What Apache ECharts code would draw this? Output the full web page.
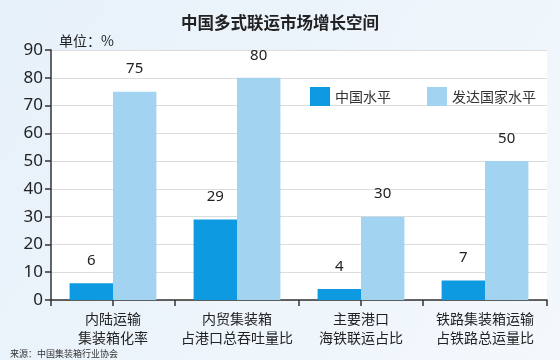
<!DOCTYPE html>
<html><head><meta charset="utf-8">
<script src="https://cdn.jsdelivr.net/npm/echarts@6/dist/echarts.min.js"></script>
<style>html,body{margin:0;padding:0;}#c{width:560px;height:360px;}</style>
</head><body><div id="c"></div>
<script>
var categories = ['内陆运输\n集装箱化率', '内贸集装箱\n占港口总吞吐量比', '主要港口\n海铁联运占比', '铁路集装箱运输\n占铁路总运量比'];
var chinaLevel = [6, 29, 4, 7];
var developedLevel = [75, 80, 30, 50];
var seriesNames = ['中国水平', '发达国家水平'];
var yTicks = [0, 10, 20, 30, 40, 50, 60, 70, 80, 90];

var F = "'Noto Sans CJK SC', 'Noto Sans', sans-serif";
var chart = echarts.init(document.getElementById('c'), null, {renderer: 'canvas'});
chart.setOption({
  backgroundColor: {type: 'linear', x: 0, y: 0, x2: 1, y2: 1,
    colorStops: [{offset: 0, color: '#e7f1fa'}, {offset: 1, color: '#f3f8fc'}]},
  animation: false,
  textStyle: {fontFamily: F},
  title: [
    {text: '中国多式联运市场增长空间', left: 'center', top: 9,
     textStyle: {fontSize: 16.5, fontWeight: 'bold', color: '#222', fontFamily: F}},
    {text: '单位：%', left: 54, top: 29,
     textStyle: {fontSize: 14, fontWeight: 'normal', color: '#222', fontFamily: F}},
    {text: '来源：中国集装箱行业协会', left: 5, top: 344,
     textStyle: {fontSize: 9, fontWeight: 'normal', color: '#333', fontFamily: F}}
  ],
  legend: {
    data: seriesNames, left: 305, top: 82, itemWidth: 20, itemHeight: 19, itemGap: 36,
    icon: 'rect', textStyle: {fontSize: 14, color: '#333', fontFamily: F}
  },
  grid: {left: 51, right: 13, top: 50, bottom: 60, show: true, backgroundColor: '#fff', borderWidth: 0},
  xAxis: [
    {type: 'category', data: categories, position: 'bottom',
     axisLine: {lineStyle: {color: '#333', width: 1.5}},
     axisTick: {show: true, length: 6, lineStyle: {color: '#333', width: 1.5}},
     axisLabel: {fontSize: 14, color: '#222', lineHeight: 19, margin: 9, interval: 0, fontFamily: F}},
    {type: 'category', data: categories, position: 'bottom',
     axisLine: {show: false},
     axisTick: {show: true, alignWithLabel: true, length: 6, lineStyle: {color: '#333', width: 1.5}},
     axisLabel: {show: false}}
  ],
  yAxis: {
    type: 'value', min: 0, max: 90, interval: 10,
    axisLine: {show: true, lineStyle: {color: '#333', width: 1.5}},
    axisTick: {show: true, length: 6, lineStyle: {color: '#333', width: 1.5}},
    axisLabel: {fontSize: 17, color: '#222', margin: 8, fontFamily: "'Noto Sans', sans-serif",
      formatter: function (v) { return yTicks.indexOf(v) >= 0 ? String(v) : ''; }},
    splitLine: {lineStyle: {color: '#dcdcdc', width: 1}}
  },
  series: [
    {name: seriesNames[0], type: 'bar', data: chinaLevel, barGap: '0%', barCategoryGap: '30%',
     itemStyle: {color: '#0d9ae0'},
     label: {show: true, position: 'top', distance: 15, fontSize: 15, color: '#222', fontFamily: "'Noto Sans', sans-serif"}},
    {name: seriesNames[1], type: 'bar', data: developedLevel,
     itemStyle: {color: '#a2d4f1'},
     label: {show: true, position: 'top', distance: 15, fontSize: 15, color: '#222', fontFamily: "'Noto Sans', sans-serif"}}
  ]
});
</script></body></html>
